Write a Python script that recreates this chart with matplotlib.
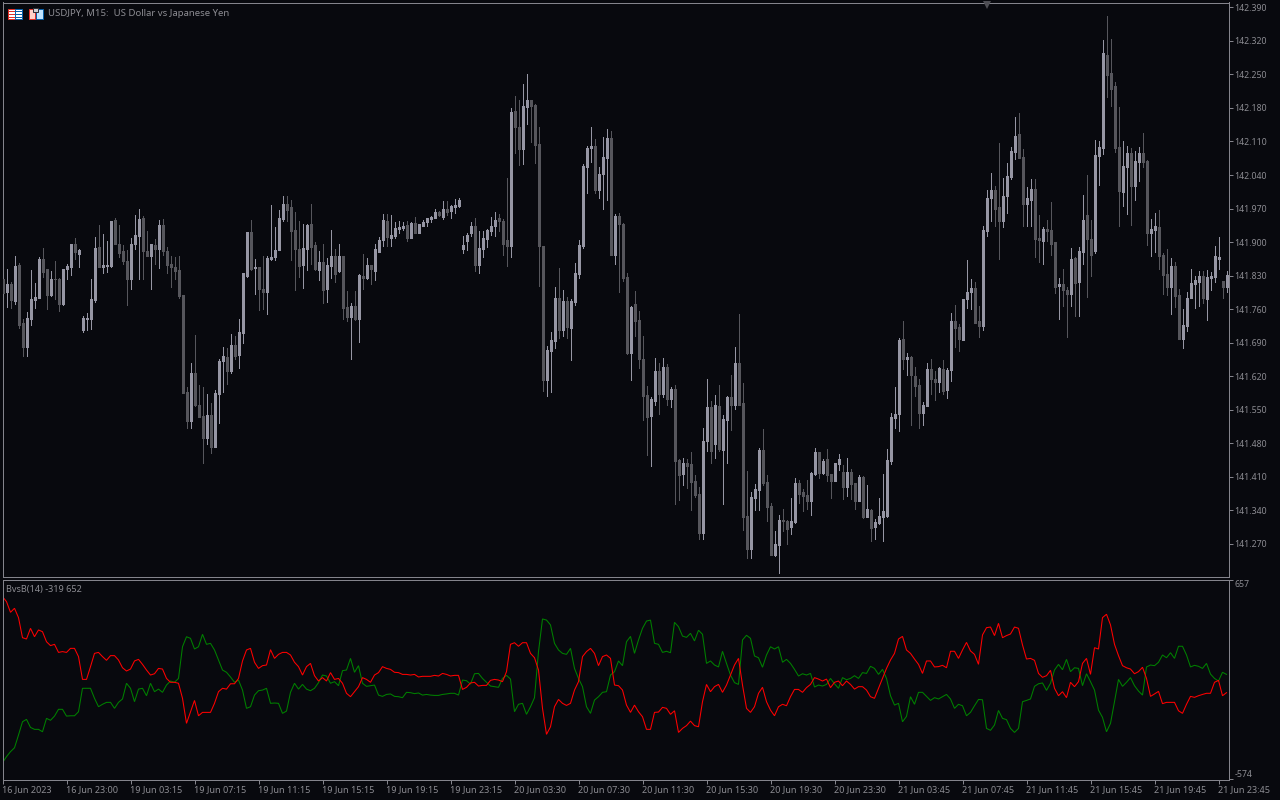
"""
USDJPY M15 candles with the BvsB(14) indicator below, MT5 dark look
"""

import numpy as np
import matplotlib
matplotlib.use("Agg")
import matplotlib.pyplot as plt
from matplotlib.patches import Rectangle

# prices are kept as thousandths above this level
BASE_PRICE = 141.0

# body direction per bar, L = rising, D = falling
direction = (
    "DLDLDDLLLL" "DDLDDLLLDL" "LLLLDLLLDD" "DDLLLDDLDL" "DDDDDDDLDD" "DLDLLLDLDL" "LLDLDDLLLL" "LDDDDLLDDL"
    "DLLDLDDLDL" "DLDLLLDLLL" "LDLDLLLLLD" "LDLLLLLLDL" "LLLLDDDLDD" "LLDDDDLLLD" "LDLLLLLLDL" "LLDLDDDLDD"
    "DDLLDLDLDD" "LDDDDLLDLD" "LLDLDDDLLL" "DDDLLDDLLD" "DDLLDLDDLL" "DLDDLDLDLL" "LLLLLDLDDD" "LLDDLDLLDD"
    "LLLDDLLLDD" "LLLLDDLLDD" "LDDDLDDLDL" "LDDLLLDDDD" "LLDLLDDLLD" "DDLDDLLLLL" "DLLLLDL"
)

wick_high = [
    826, 843, 816, 870, 856, 740, 754, 841, 815, 868, 888, 844, 839, 861, 826, 843, 855, 897, 909, 885,
    746, 752, 823, 910, 935, 916, 903, 943, 951, 935, 893, 883, 908, 956, 970, 954, 924, 897, 906, 947,
    949, 889, 872, 868, 872, 789, 597, 647, 706, 601, 597, 582, 565, 592, 657, 682, 678, 709, 703, 739,
    835, 922, 947, 864, 847, 870, 872, 977, 931, 968, 997, 997, 987, 962, 945, 937, 937, 979, 901, 881,
    896, 866, 925, 885, 896, 871, 798, 773, 798, 833, 875, 867, 852, 896, 910, 958, 958, 956, 942, 944,
    942, 944, 942, 952, 938, 946, 950, 954, 969, 965, 986, 986, 977, 990, 992, 913, 919, 942, 950, 923,
    923, 927, 952, 963, 958, 948, 1034, 1180, 1205, 1196, 1230, 1251, 1196, 1188, 1140, 892, 683, 712, 806, 846,
    800, 785, 781, 856, 904, 1063, 1100, 1140, 1115, 1057, 1119, 1136, 1132, 958, 960, 940, 835, 766, 798, 756,
    705, 599, 576, 659, 647, 659, 645, 597, 601, 448, 450, 448, 461, 415, 388, 513, 615, 569, 580, 601,
    540, 578, 622, 682, 749, 605, 423, 379, 396, 471, 509, 415, 356, 298, 331, 342, 321, 367, 407, 404,
    384, 404, 421, 471, 463, 448, 469, 417, 438, 457, 434, 450, 427, 398, 415, 411, 394, 342, 323, 365,
    417, 469, 544, 597, 699, 736, 668, 663, 640, 615, 567, 647, 655, 630, 640, 653, 638, 753, 768, 730,
    781, 862, 822, 816, 766, 933, 1008, 1044, 1017, 1106, 1033, 1065, 1098, 1161, 1169, 1094, 1015, 1031, 1031, 956,
    931, 946, 983, 900, 825, 843, 806, 887, 868, 889, 998, 1040, 946, 1113, 1111, 1321, 1372, 1324, 1234, 1181,
    1111, 1100, 1096, 1090, 1098, 1127, 1071, 948, 960, 967, 877, 885, 866, 858, 802, 760, 795, 843, 829, 839,
    839, 841, 837, 891, 910, 818, 839,
]

body_top = [
    824, 813, 813, 851, 853, 732, 741, 782, 786, 864, 865, 843, 824, 823, 824, 843, 851, 895, 895, 883,
    741, 741, 782, 887, 889, 853, 853, 943, 947, 897, 881, 860, 897, 914, 949, 951, 881, 895, 893, 935,
    935, 881, 855, 849, 841, 789, 588, 626, 626, 561, 538, 540, 540, 586, 651, 663, 661, 686, 686, 713,
    835, 922, 922, 849, 847, 803, 866, 868, 883, 951, 979, 979, 974, 926, 885, 887, 935, 937, 893, 858,
    858, 852, 871, 871, 871, 871, 764, 766, 766, 831, 829, 852, 852, 885, 904, 946, 944, 915, 929, 931,
    933, 935, 940, 940, 938, 942, 950, 952, 963, 963, 969, 969, 975, 977, 988, 894, 915, 933, 933, 887,
    908, 925, 933, 946, 950, 944, 904, 1171, 1174, 1140, 1184, 1196, 1196, 1186, 1105, 892, 674, 695, 783, 783,
    777, 777, 777, 835, 894, 1059, 1096, 1100, 1100, 1042, 1077, 1117, 1117, 954, 954, 938, 827, 764, 771, 737,
    657, 580, 572, 632, 632, 640, 640, 594, 594, 446, 438, 438, 436, 402, 375, 484, 555, 555, 561, 557,
    530, 576, 576, 647, 647, 565, 329, 369, 384, 467, 467, 400, 350, 269, 321, 321, 319, 317, 398, 398,
    379, 373, 419, 461, 461, 444, 448, 417, 438, 448, 421, 421, 421, 398, 409, 409, 342, 340, 315, 329,
    338, 446, 536, 542, 695, 697, 661, 661, 620, 601, 559, 636, 636, 615, 638, 636, 634, 736, 736, 722,
    781, 795, 804, 804, 735, 925, 992, 1008, 1008, 973, 996, 1037, 1090, 1121, 1125, 1077, 992, 1010, 1010, 908,
    927, 927, 925, 900, 812, 812, 801, 864, 866, 881, 946, 956, 906, 1081, 1098, 1294, 1290, 1253, 1225, 1098,
    1058, 1085, 1085, 1069, 1085, 1085, 1069, 927, 933, 931, 873, 833, 850, 850, 789, 726, 783, 814, 820, 829,
    829, 827, 829, 870, 868, 818, 831,
]

body_bottom = [
    793, 796, 780, 778, 728, 682, 682, 739, 780, 784, 837, 789, 789, 822, 770, 770, 843, 848, 879, 876,
    716, 739, 739, 780, 849, 849, 851, 851, 895, 878, 860, 822, 822, 897, 912, 881, 872, 872, 885, 885,
    881, 853, 847, 839, 787, 586, 526, 526, 561, 536, 492, 492, 473, 473, 582, 651, 632, 632, 663, 665,
    711, 830, 843, 845, 803, 795, 795, 864, 868, 883, 949, 966, 924, 885, 851, 853, 885, 889, 843, 841,
    800, 802, 850, 833, 839, 762, 743, 743, 739, 739, 825, 825, 844, 839, 879, 904, 910, 908, 912, 927,
    929, 908, 908, 919, 919, 933, 942, 948, 950, 956, 952, 963, 965, 973, 975, 885, 902, 919, 852, 852,
    885, 906, 923, 933, 944, 896, 892, 892, 1140, 1094, 1094, 1182, 1184, 1102, 892, 612, 612, 672, 693, 716,
    716, 722, 720, 775, 833, 892, 1057, 1096, 1009, 1009, 1042, 1075, 873, 873, 938, 825, 668, 668, 735, 656,
    578, 536, 538, 569, 582, 582, 572, 572, 444, 415, 417, 432, 400, 373, 292, 292, 484, 465, 478, 469,
    467, 528, 559, 559, 561, 327, 260, 260, 367, 382, 398, 348, 248, 248, 267, 317, 302, 306, 315, 375,
    371, 359, 359, 417, 419, 419, 413, 402, 402, 436, 388, 388, 396, 359, 359, 327, 327, 304, 306, 313,
    327, 329, 444, 532, 542, 655, 655, 622, 599, 544, 544, 557, 615, 607, 607, 590, 592, 634, 720, 697,
    696, 781, 795, 731, 724, 724, 923, 992, 969, 944, 944, 996, 1035, 1088, 1075, 979, 979, 987, 906, 904,
    902, 923, 896, 806, 808, 801, 791, 791, 814, 816, 879, 906, 873, 881, 1079, 1096, 1248, 1219, 1096, 1006,
    1004, 1056, 1017, 1017, 1067, 1067, 918, 918, 925, 870, 831, 806, 806, 787, 697, 697, 724, 783, 812, 816,
    783, 781, 825, 827, 864, 806, 806,
]

wick_low = [
    792, 764, 763, 770, 720, 662, 663, 728, 762, 783, 828, 760, 788, 781, 757, 768, 824, 832, 865, 849,
    713, 716, 718, 774, 848, 835, 837, 847, 895, 868, 855, 768, 803, 885, 824, 824, 870, 803, 855, 845,
    874, 835, 807, 822, 784, 586, 511, 511, 557, 534, 438, 478, 459, 473, 523, 588, 603, 626, 655, 638,
    690, 828, 841, 791, 759, 761, 749, 862, 862, 883, 943, 945, 862, 799, 828, 805, 841, 855, 841, 820,
    773, 775, 825, 816, 837, 739, 735, 656, 737, 691, 802, 823, 812, 821, 879, 892, 892, 892, 908, 919,
    925, 902, 908, 919, 919, 933, 933, 942, 950, 954, 948, 956, 950, 961, 973, 877, 883, 912, 839, 835,
    869, 890, 915, 912, 923, 873, 850, 869, 1086, 1061, 1063, 1146, 1109, 1065, 808, 589, 578, 587, 679, 700,
    704, 700, 654, 768, 825, 887, 1002, 1067, 1002, 992, 969, 988, 873, 854, 796, 819, 666, 612, 704, 637,
    528, 455, 432, 559, 542, 576, 559, 555, 354, 361, 394, 386, 340, 369, 281, 281, 465, 438, 450, 465,
    354, 438, 507, 551, 559, 300, 240, 240, 340, 340, 394, 317, 248, 244, 210, 298, 271, 290, 313, 356,
    338, 342, 331, 413, 407, 417, 402, 365, 402, 425, 363, 371, 363, 344, 359, 325, 327, 277, 281, 311,
    277, 327, 436, 511, 505, 636, 622, 519, 578, 511, 519, 557, 582, 571, 588, 582, 574, 611, 682, 672,
    695, 762, 760, 731, 701, 716, 912, 944, 933, 864, 931, 960, 1031, 1073, 1075, 933, 933, 933, 868, 858,
    854, 902, 873, 793, 739, 766, 701, 766, 745, 745, 854, 785, 829, 877, 1019, 1083, 1202, 1184, 1088, 933,
    975, 958, 935, 987, 1027, 1056, 893, 870, 879, 843, 791, 789, 749, 764, 697, 678, 714, 783, 762, 766,
    772, 737, 799, 816, 843, 783, 795,
]

# BvsB(14) lines
bulls_red = [
    556, 525, 459, 484, 426, 302, 294, 360, 308, 350, 339, 277, 253, 261, 211, 216, 211, 236, 236, 185,
    44, 44, 123, 205, 211, 185, 162, 191, 191, 164, 116, 96, 108, 158, 168, 137, 102, 71, 79, 112,
    108, 50, 26, 26, 20, -73, -228, -156, -86, -181, -160, -160, -160, -104, -32, -11, -16, 17, 17, 50,
    158, 226, 236, 150, 112, 129, 133, 228, 174, 199, 211, 211, 195, 150, 123, 71, 123, 143, 67, 34,
    55, 34, 86, 44, 50, 20, -42, -63, -32, -1, 55, 44, 26, 71, 86, 123, 112, 106, 88, 86,
    75, 75, 71, 75, 59, 63, 63, 63, 69, 65, 81, 75, 65, 69, 69, -18, -5, 22, 26, 3,
    7, 7, 38, 44, 40, 30, 92, 261, 271, 249, 271, 271, 205, 178, 102, -135, -296, -249, -125, -80,
    -104, -117, -104, -22, 30, 185, 216, 236, 205, 129, 185, 195, 174, 9, 5, -22, -115, -160, -115, -156,
    -187, -265, -265, -160, -158, -129, -135, -172, -150, -284, -259, -242, -214, -242, -249, -94, 13, -32, -1, 13,
    -36, 9, 71, 133, 174, 9, -135, -160, -125, -42, -5, -94, -146, -181, -125, -110, -119, -63, -18, -18,
    -36, -7, 13, 55, 46, 34, 46, -7, 26, 34, 5, 34, 13, -16, -1, -1, -22, -63, -73, -11,
    50, 112, 164, 205, 294, 310, 226, 205, 170, 137, 81, 158, 158, 121, 123, 131, 116, 218, 218, 174,
    226, 273, 220, 199, 137, 319, 364, 368, 315, 391, 302, 315, 325, 368, 360, 257, 170, 174, 162, 81,
    57, 67, 100, -11, -57, -32, -69, 26, -1, 30, 143, 174, 75, 240, 232, 426, 447, 381, 261, 191,
    129, 116, 108, 79, 92, 119, 50, -61, -46, -30, -106, -98, -98, -98, -150, -166, -110, -61, -67, -57,
    -49, -42, -42, 26, 38, -57, -38,
]

bears_green = [
    -471, -434, -403, -379, -300, -218, -203, -253, -265, -265, -280, -197, -209, -183, -141, -141, -183, -181, -181, -156,
    -11, -11, -11, -73, -125, -110, -98, -98, -135, -98, -77, 20, -11, -94, -16, -11, -57, 20, -32, -16,
    -36, 9, 34, 26, 50, 246, 308, 298, 232, 246, 323, 261, 267, 226, 164, 102, 88, 59, 26, 40,
    -22, -135, -125, -53, -26, -22, -11, -104, -102, -104, -166, -152, -36, 20, -16, 13, -16, -26, -11, 24,
    71, 65, 20, 30, 5, 98, 102, 174, 88, 129, 20, 1, 5, 9, -53, -61, -49, -46, -61, -63,
    -69, -36, -38, -44, -40, -53, -49, -53, -55, -55, -49, -46, -42, -42, -53, 40, 36, 15, 79, 81,
    50, 26, 3, -1, -5, 50, 69, 46, -156, -110, -104, -172, -125, -69, 216, 418, 411, 381, 267, 226,
    205, 199, 236, 112, 50, -1, -125, -166, -84, -63, -36, -32, 71, 92, 158, 129, 277, 310, 205, 288,
    360, 405, 411, 267, 261, 211, 218, 209, 397, 370, 312, 304, 329, 282, 348, 323, 143, 158, 133, 121,
    218, 143, 71, 24, 13, 288, 317, 298, 189, 178, 119, 195, 246, 232, 246, 150, 168, 143, 106, 65,
    79, 71, 81, -3, 9, 3, 13, 50, 17, -11, 55, 42, 50, 67, 50, 86, 81, 125, 112, 75,
    106, 50, -57, -115, -104, -218, -185, -63, -110, -36, -36, -61, -86, -69, -77, -63, -49, -77, -135, -110,
    -119, -181, -160, -119, -80, -82, -259, -271, -238, -148, -197, -205, -259, -284, -259, -94, -86, -77, 1, 17,
    22, -24, 20, 102, 137, 104, 168, 92, 116, 112, 5, 79, 30, -22, -146, -191, -280, -228, -94, 44,
    1, 26, 55, 5, -28, -53, 121, 133, 129, 150, 195, 178, 209, 174, 249, 249, 195, 121, 131, 125,
    112, 143, 77, 50, 34, 88, 75,
]

time_labels = [
    "16 Jun 2023", "16 Jun 23:00", "19 Jun 03:15", "19 Jun 07:15", "19 Jun 11:15",
    "19 Jun 15:15", "19 Jun 19:15", "19 Jun 23:15", "20 Jun 03:30", "20 Jun 07:30",
    "20 Jun 11:30", "20 Jun 15:30", "20 Jun 19:30", "20 Jun 23:30", "21 Jun 03:45",
    "21 Jun 07:45", "21 Jun 11:45", "21 Jun 15:45", "21 Jun 19:45", "21 Jun 23:45",
]
price_ticks = [141.27, 141.34, 141.41, 141.48, 141.55, 141.62, 141.69, 141.76, 141.83,
               141.90, 141.97, 142.04, 142.11, 142.18, 142.25, 142.32, 142.39]
indicator_ticks = [657, -574]

BG = "#08090e"
FRAME = "#84848c"
TEXT = "#8c8c92"
UP = "#9696a4"
DOWN = "#56565c"
W, H = 1280, 800
PX = 72 / 100  # one pixel in points

plt.rcParams['font.family'] = ['Noto Sans', 'DejaVu Sans']
plt.rcParams['font.size'] = 6.3

high = BASE_PRICE + np.array(wick_high) / 1000
low = BASE_PRICE + np.array(wick_low) / 1000
top = BASE_PRICE + np.array(body_top) / 1000
bottom = BASE_PRICE + np.array(body_bottom) / 1000
x = np.arange(len(high))
colors = [UP if d == "L" else DOWN for d in direction]


def panel(left, top_px, right, bottom_px):
    return fig.add_axes([left / W, 1 - bottom_px / H, (right - left) / W, (bottom_px - top_px) / H])


def style_axes(ax):
    ax.set_facecolor(BG)
    ax.set_xlim(0, (1229 - 2.5) / 4)
    ax.yaxis.tick_right()
    for spine in ax.spines.values():
        spine.set_color(FRAME)
        spine.set_linewidth(PX)
    ax.tick_params(axis='y', colors=TEXT, color=FRAME, length=4 * PX, width=PX, pad=1.2)
    ax.tick_params(axis='x', colors=TEXT, color=FRAME, length=4 * PX, width=PX, pad=0.8, labelsize=6.5)


fig = plt.figure(figsize=(W / 100, H / 100), dpi=100, facecolor=BG)

ax = panel(2.5, 2.5, 1229, 577)
style_axes(ax)
ax.set_ylim(141.2011, 142.400)
ax.set_yticks(price_ticks)
ax.set_yticklabels([f"{p:.3f}" for p in price_ticks])
ax.set_xticks([])
ax.vlines(x, low, high, colors=colors, linewidth=PX, antialiased=False, zorder=2)
ax.bar(x, top - bottom, bottom=bottom, width=0.5, color=colors, edgecolor=colors,
       linewidth=PX, antialiased=False, zorder=3)

ax2 = panel(2.5, 579.5, 1229, 780)
style_axes(ax2)
ax2.set_ylim(-578.3, 662)
ax2.set_yticks(indicator_ticks)
ax2.set_yticklabels([str(v) for v in indicator_ticks])
ticks = ax2.get_yticklabels()
ticks[0].set_verticalalignment('top')
ticks[1].set_verticalalignment('bottom')
ax2.set_xticks(x[::16][:len(time_labels)])
ax2.set_xticklabels(time_labels, ha='left')
# non-antialiased lines come out two pixels wide here, so keep these smooth
ax2.plot(x, bears_green, color="#008000", linewidth=1.05 * PX, solid_joinstyle='miter')
ax2.plot(x, bulls_red, color="#ff0000", linewidth=1.05 * PX, solid_joinstyle='miter')

# overlay in screen pixels for the title texts and terminal icons
over = fig.add_axes([0, 0, 1, 1])
over.set_xlim(0, W)
over.set_ylim(H, 0)
over.axis('off')
over.patch.set_alpha(0)
over.text(48.5, 14, "USDJPY, M15:  US Dollar vs Japanese Yen", color=TEXT, fontsize=6.9, va='center', ha='left')
over.text(5.5, 589.5, "BvsB(14) -319 652", color=TEXT, fontsize=6.55, va='center', ha='left')
over.plot([986.5], [4.5], marker='v', color="#4e4e54", markersize=5.5, markeredgewidth=0)

# grid icon
over.add_patch(Rectangle((7.5, 8.5), 7, 10, facecolor="white", edgecolor="#e03028", linewidth=PX))
over.add_patch(Rectangle((14.5, 8.5), 7, 10, facecolor="white", edgecolor="#0860a8", linewidth=PX))
for row in (10.5, 13.5, 16.5):
    over.plot([9, 14], [row, row], color="#e03028", linewidth=0.9 * PX, antialiased=False)
    over.plot([15, 20.5], [row, row], color="#0860a8", linewidth=0.9 * PX, antialiased=False)

# disk icon
over.add_patch(Rectangle((28.5, 8.5), 6.5, 10, facecolor="#ffd0c8", edgecolor="#e03028", linewidth=PX))
over.add_patch(Rectangle((36, 8.5), 6.5, 10, facecolor="#c0e4ff", edgecolor="#0860a8", linewidth=PX))
over.add_patch(Rectangle((33, 8), 4.5, 3.5, facecolor="#d0d0d4", edgecolor="#303038", linewidth=PX))

fig.savefig("out.png", dpi=100, facecolor=BG)
